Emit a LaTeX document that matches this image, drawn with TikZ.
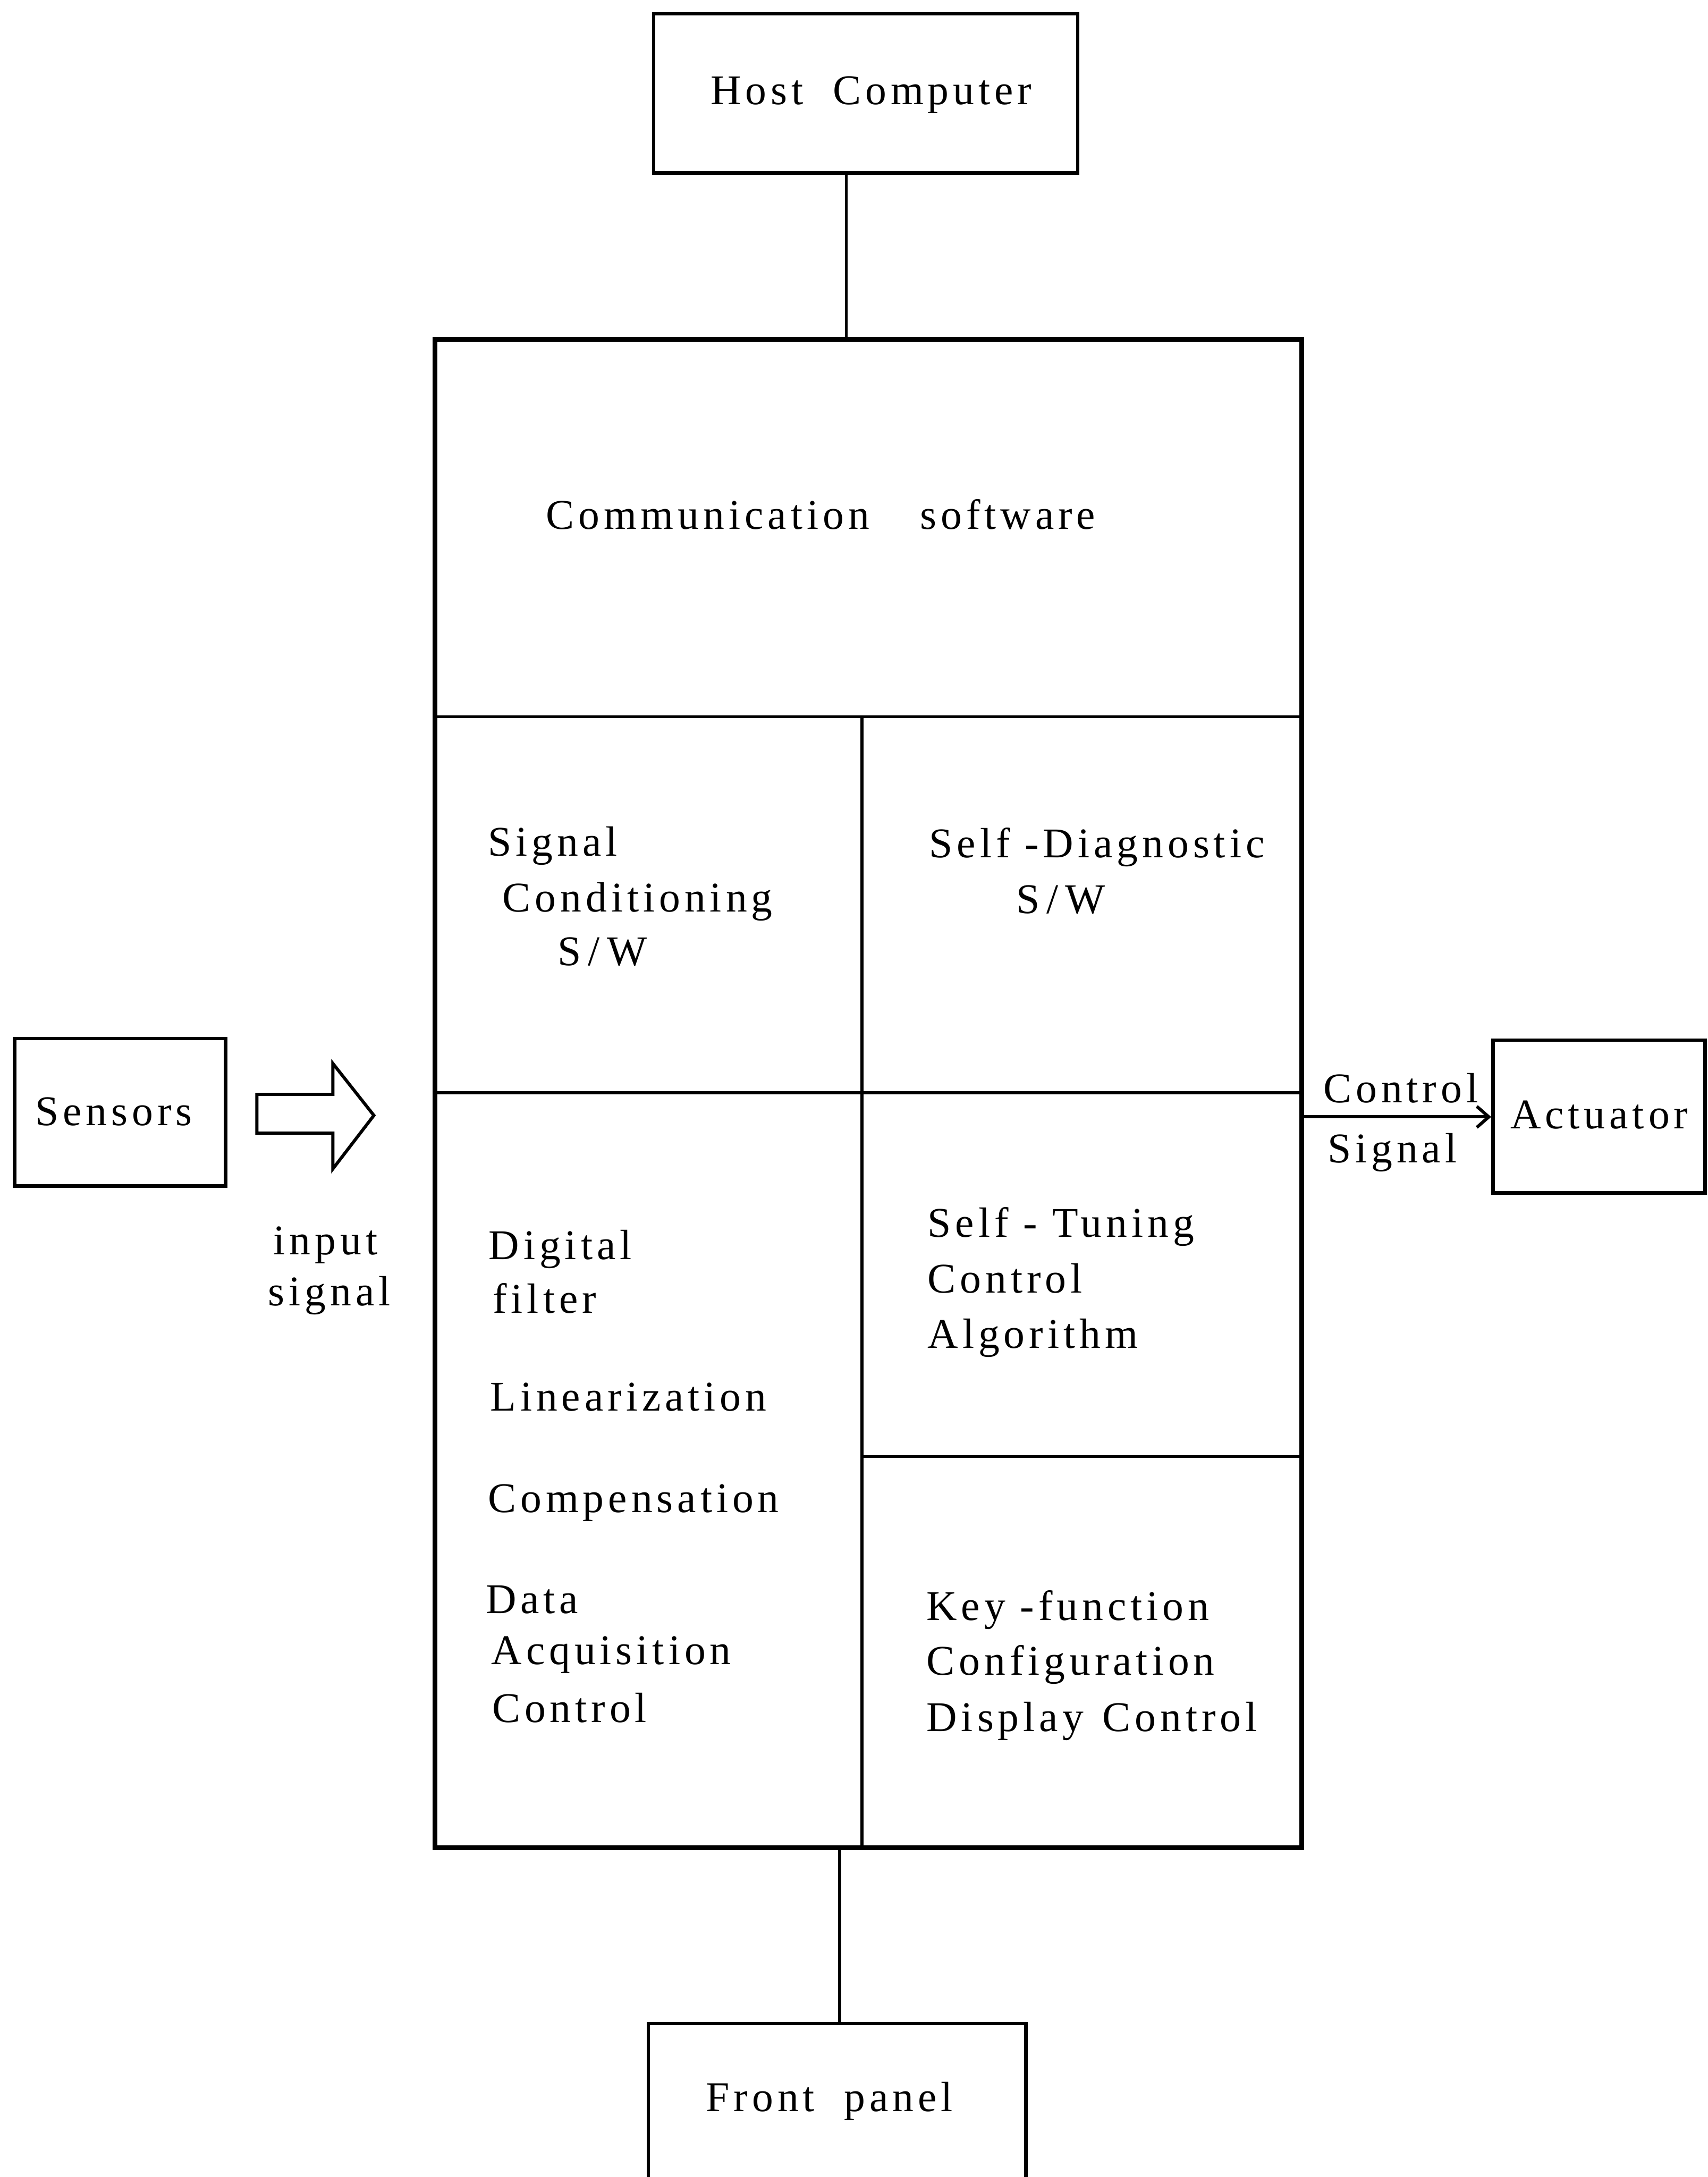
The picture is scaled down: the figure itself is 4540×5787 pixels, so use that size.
\documentclass[tikz,border=0pt]{standalone}
\usepackage{fontspec}
\setmainfont{Liberation Serif}[LetterSpace=10]
\usetikzlibrary{fit,arrows.meta}
\begin{document}
\begin{tikzpicture}[x=0.05mm,y=-0.05mm,
  box/.style={draw,line width=1.3pt,inner sep=0pt},
  cell/.style={draw,line width=1.15pt,inner sep=0pt},
  hidden/.style={inner sep=0pt},
  lbl/.style={anchor=base west,inner sep=0pt,font=\fontsize{16pt}{19pt}\selectfont},
  wire/.style={line width=1.1pt},
  sigarrow/.style={line width=1.2pt,-{Straight Barb[length=1.6mm,width=2.8mm,line width=1.2pt]}}]
\useasboundingbox (0,0) rectangle (4540,5787);

% outer blocks
\node[box,fit={(1738,37) (2865,460)}] (host) {};
\node[box,fit={(39,2761) (600,3153)}] (sens) {};
\node[box,fit={(3969,2765) (4533,3171)}] (act) {};
\node[hidden,fit={(1725,5380) (2726,5787)}] (front) {};
\draw[line width=1.3pt] (front.south west) |- (front.north east) -- (front.south east);

% controller cells
\node[cell,fit={(1159,904) (3458,1905)}] (comm) {};
\node[cell,fit={(1159,1905) (2292,2905)}] (cond) {};
\node[cell,fit={(2292,1905) (3458,2905)}] (diag) {};
\node[cell,fit={(1159,2905) (2292,4909)}] (proc) {};
\node[cell,fit={(2292,2905) (3458,3872)}] (tune) {};
\node[cell,fit={(2292,3872) (3458,4909)}] (keys) {};
\node[box,fit=(comm) (proc) (keys)] (main) {};

% connectors
\coordinate (hx) at (2250,0);
\coordinate (fx) at (2232,0);
\coordinate (cy) at (0,2969);
\draw[wire] (host.south -| hx) -- (main.north -| hx);
\draw[wire] (main.south -| fx) -- (front.north -| fx);
\draw[sigarrow] (main.east |- cy) -- (act.west |- cy);

% input block arrow
\draw[line width=1.2pt,line join=miter] (683,2909) -- (885,2909) -- (885,2827) -- (994,2965)
  -- (885,3107) -- (885,3012) -- (683,3012) -- cycle;

% labels
\node[lbl] (tHost) at (1888,278) {Host\hspace{0.7em}Computer};
\node[lbl] (tComm) at (1450,1407) {Communication\hspace{1.2em}software};
\node[lbl] (tSig) at (1296,2276) {Signal};
\node[lbl] (tCond) at (1335,2423) {Conditioning};
\node[lbl] (tSW1) at (1481,2567) {S\,/\,W};
\node[lbl] (tDiag) at (2469,2280) {Self -Diagnostic};
\node[lbl] (tSW2) at (2700,2428) {S\,/\,W};
\node[lbl] (tDig) at (1298,3347) {Digital};
\node[lbl] (tFil) at (1309,3491) {filter};
\node[lbl] (tLin) at (1302,3751) {Linearization};
\node[lbl] (tComp) at (1296,4020) {Compensation};
\node[lbl] (tData) at (1290,4289) {Data};
\node[lbl] (tAcq) at (1305,4424) {Acquisition};
\node[lbl] (tCtl) at (1307,4578) {Control};
\node[lbl] (tST) at (2465,3289) {Self - Tuning};
\node[lbl] (tSTc) at (2465,3437) {Control};
\node[lbl] (tAlg) at (2465,3583) {Algorithm};
\node[lbl] (tKey) at (2462,4307) {Key -function};
\node[lbl] (tConf) at (2462,4452) {Configuration};
\node[lbl] (tDisp) at (2462,4602) {Display\hspace{0.45em}Control};
\node[lbl] (tSens) at (92,2991) {Sensors};
\node[lbl] (tIn) at (726,3335) {input};
\node[lbl] (tInS) at (712,3470) {signal};
\node[lbl] (tCS) at (3517,2931) {Control};
\node[lbl] (tCS2) at (3528,3090) {Signal};
\node[lbl] (tAct) at (4014,3000) {Actuator};
\node[lbl] (tFront) at (1876,5612) {Front\hspace{0.7em}panel};
\end{tikzpicture}
\end{document}
